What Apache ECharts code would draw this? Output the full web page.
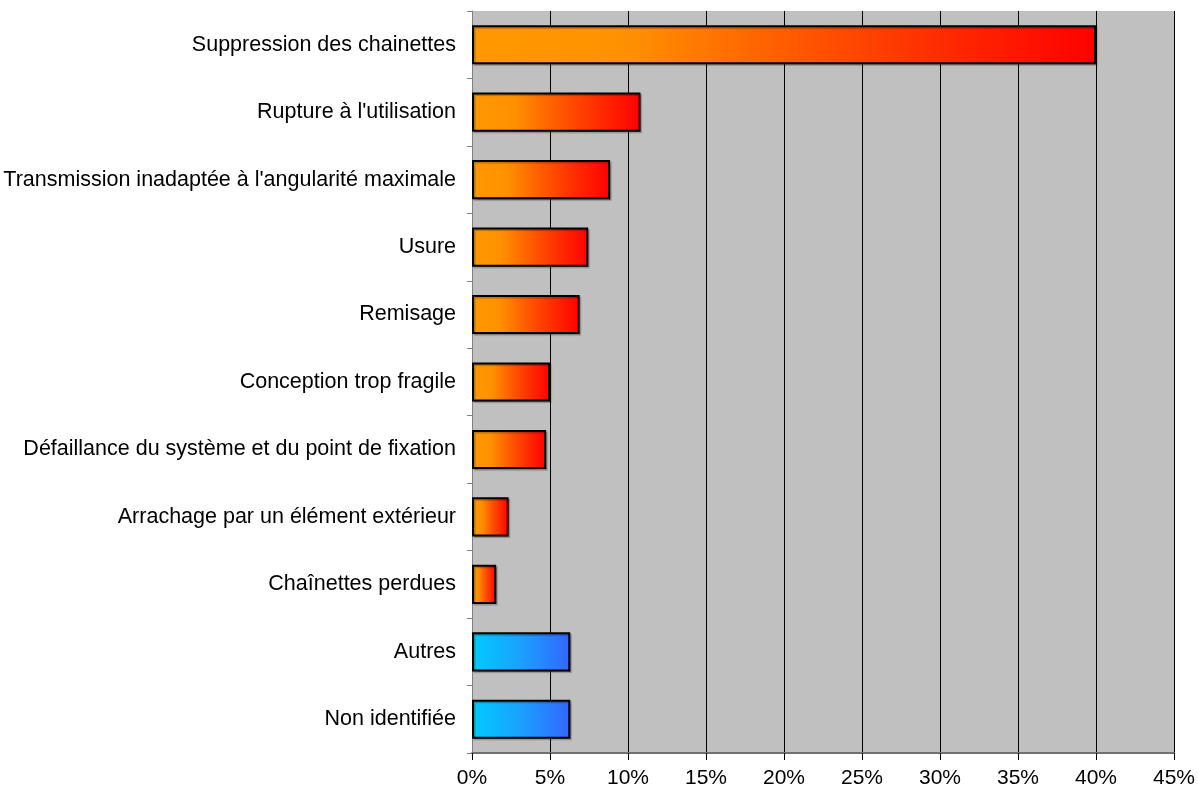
<!DOCTYPE html>
<html>
<head>
<meta charset="utf-8">
<script src="https://cdn.jsdelivr.net/npm/echarts@6/dist/echarts.min.js"></script>
<style>
  html, body { margin: 0; padding: 0; background: #ffffff; }
  #chart { width: 1198px; height: 794px; }
</style>
</head>
<body>
<div id="chart"></div>
<script>
// Causes of failure, share of cases (%), listed top to bottom
const categories = [
  "Suppression des chainettes",
  "Rupture à l'utilisation",
  "Transmission inadaptée à l'angularité maximale",
  "Usure",
  "Remisage",
  "Conception trop fragile",
  "Défaillance du système et du point de fixation",
  "Arrachage par un élément extérieur",
  "Chaînettes perdues",
  "Autres",
  "Non identifiée"
];
const shares = [40.0, 10.8, 8.85, 7.45, 6.9, 5.0, 4.75, 2.35, 1.55, 6.3, 6.3];
// 'cause' = identified cause (warm gradient), 'other' = other / unknown (cool gradient)
const groups = ["cause", "cause", "cause", "cause", "cause", "cause", "cause", "cause", "cause", "other", "other"];
const xTicks = [0, 5, 10, 15, 20, 25, 30, 35, 40, 45];

const gradients = {
  cause: [[0, "#ff9900"], [0.25, "#ff9100"], [0.5, "#ff5c00"], [0.75, "#ff2c00"], [1, "#ff0000"]],
  other: [[0, "#00ccff"], [0.5, "#1aa0ff"], [1, "#3366ff"]]
};

const chart = echarts.init(document.getElementById('chart'));

const barData = shares.map((v, i) => ({
  value: v,
  itemStyle: {
    color: new echarts.graphic.LinearGradient(0, 0, 1, 0,
      gradients[groups[i]].map(s => ({ offset: s[0], color: s[1] })))
  }
}));

chart.setOption({
  animation: false,
  textStyle: { fontFamily: "Liberation Sans, Arial, sans-serif" },
  grid: {
    left: 472, right: 24, top: 11, bottom: 41,
    show: true, backgroundColor: "#c0c0c0", borderWidth: 0
  },
  xAxis: {
    type: "value",
    min: xTicks[0],
    max: xTicks[xTicks.length - 1],
    interval: 5,
    axisLine: { show: true, lineStyle: { color: "#707070", width: 2 } },
    axisTick: { show: true, length: 7, lineStyle: { color: "#000000" } },
    axisLabel: {
      formatter: v => v + "%",
      color: "#000000", fontSize: 21, margin: 15
    },
    splitLine: { show: true, lineStyle: { color: "#000000", width: 1 } }
  },
  yAxis: {
    type: "category",
    data: categories,
    inverse: true,
    axisLine: { show: true, lineStyle: { color: "#808080", width: 1 } },
    axisTick: { show: true, length: 5, lineStyle: { color: "#808080" } },
    axisLabel: { color: "#000000", fontSize: 21.5, margin: 16 },
    splitLine: { show: false }
  },
  series: [{
    type: "bar",
    data: barData,
    barCategoryGap: "42%",
    itemStyle: {
      borderColor: "#000000", borderWidth: 2,
      shadowColor: "rgba(0,0,0,0.25)", shadowOffsetX: 1.5, shadowOffsetY: 1.5, shadowBlur: 1
    }
  }]
});
</script>
</body>
</html>
